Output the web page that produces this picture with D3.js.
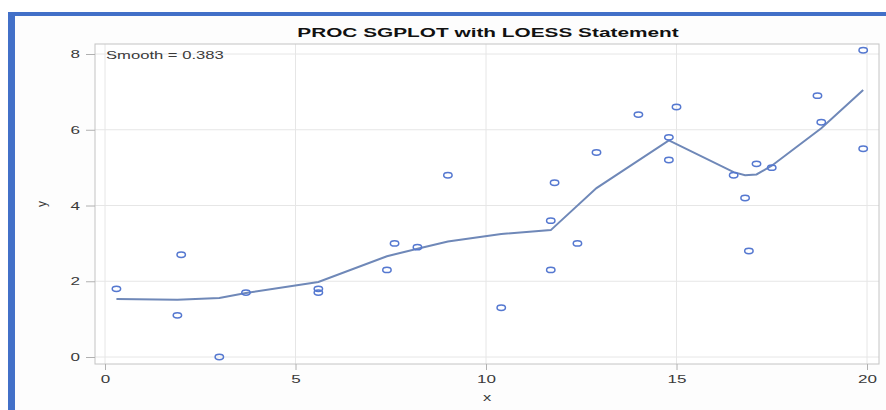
<!DOCTYPE html>
<html>
<head>
<meta charset="utf-8">
<script src="https://cdn.jsdelivr.net/npm/d3@7"></script>
<style>
  body { margin: 0; background: #fff; }
  text { font-family: "Liberation Sans", Arial, sans-serif; }
</style>
</head>
<body>
<div class="chart"></div>
<script>
let svgWidth = 886;
let svgHeight = 410;

// observed points
let xValues = [0.3, 1.9, 2.0, 3.0, 3.7, 5.6, 5.6, 7.4, 7.6, 8.2, 9.0, 10.4, 11.7, 11.7, 11.8, 12.4,
  12.9, 14.0, 14.8, 14.8, 15.0, 16.5, 16.8, 16.9, 17.1, 17.5, 18.7, 18.8, 19.9, 19.9];
let yValues = [1.8, 1.1, 2.7, 0.0, 1.7, 1.8, 1.7, 2.3, 3.0, 2.9, 4.8, 1.3, 2.3, 3.6, 4.6, 3.0,
  5.4, 6.4, 5.2, 5.8, 6.6, 4.8, 4.2, 2.8, 5.1, 5.0, 6.9, 6.2, 8.1, 5.5];

// loess fit
let fitX = [0.3, 1.9, 3.0, 3.7, 5.6, 7.4, 8.2, 9.0, 10.4, 11.7, 12.9, 14.8, 16.5, 16.8, 17.1, 17.5, 18.8, 19.9];
let fitY = [1.53, 1.51, 1.56, 1.69, 1.98, 2.66, 2.86, 3.05, 3.25, 3.35, 4.46, 5.72, 4.88, 4.8, 4.82, 5.05, 6.04, 7.05];

let xTicks = [0, 5, 10, 15, 20];
let yTicks = [0, 2, 4, 6, 8];

let titleText = "PROC SGPLOT with LOESS Statement";
let smoothText = "Smooth = 0.383";

let frame = { left: 95, top: 44, right: 879, bottom: 364 };

let svg = d3.select(".chart")
  .append("svg")
  .attr("width", svgWidth)
  .attr("height", svgHeight);

// outer blue border (top and left visible)
svg.append("rect")
  .attr("x", 8).attr("y", 12)
  .attr("width", svgWidth).attr("height", svgHeight)
  .attr("fill", "#fdfdfd");
svg.append("rect")
  .attr("x", 8).attr("y", 12)
  .attr("width", svgWidth - 8).attr("height", 4)
  .attr("fill", "#4270c8");
svg.append("rect")
  .attr("x", 8).attr("y", 12)
  .attr("width", 7).attr("height", svgHeight - 12)
  .attr("fill", "#4270c8");

let xScale = d3.scaleLinear().domain([0, 20]).range([105, 867]);
let yScale = d3.scaleLinear().domain([0, 8]).range([357, 54]);

svg.append("rect")
  .attr("x", frame.left).attr("y", frame.top)
  .attr("width", frame.right - frame.left).attr("height", frame.bottom - frame.top)
  .attr("fill", "#fff");

// grid
svg.append("g").selectAll("line")
  .data(xTicks)
  .enter().append("line")
  .attr("x1", d => xScale(d)).attr("x2", d => xScale(d))
  .attr("y1", frame.top).attr("y2", frame.bottom)
  .attr("stroke", "#e6e6e6");
svg.append("g").selectAll("line")
  .data(yTicks)
  .enter().append("line")
  .attr("x1", frame.left).attr("x2", frame.right)
  .attr("y1", d => yScale(d)).attr("y2", d => yScale(d))
  .attr("stroke", "#e6e6e6");

svg.append("rect")
  .attr("x", frame.left).attr("y", frame.top)
  .attr("width", frame.right - frame.left).attr("height", frame.bottom - frame.top)
  .attr("fill", "none")
  .attr("stroke", "#c4c4c4");

let xAxis = d3.axisBottom(xScale).tickValues(xTicks).tickSize(6).tickPadding(5);
let yAxis = d3.axisLeft(yScale).tickValues(yTicks).tickSize(9).tickPadding(6);

let xg = svg.append("g")
  .attr("transform", `translate(0, ${frame.bottom})`)
  .call(xAxis);
let yg = svg.append("g")
  .attr("transform", `translate(${frame.left}, 0)`)
  .call(yAxis);

[xg, yg].forEach(g => {
  g.select(".domain").remove();
  g.selectAll(".tick line").attr("stroke", "#b0b0b0");
  g.selectAll(".tick text")
    .attr("fill", "#3a3a3a")
    .attr("data-stretch", 1.55)
    .style("font-size", "11px")
    .style("font-family", "'Liberation Sans', Arial, sans-serif");
});

// loess line
let line = d3.line()
  .x(d => xScale(d[0]))
  .y(d => yScale(d[1]));

svg.append("path")
  .datum(d3.zip(fitX, fitY))
  .attr("d", line)
  .attr("fill", "none")
  .attr("stroke", "#6f88b8")
  .attr("stroke-width", 2);

// points
svg.append("g").selectAll("ellipse")
  .data(d3.zip(xValues, yValues))
  .enter()
  .append("ellipse")
  .attr("cx", d => xScale(d[0]))
  .attr("cy", d => yScale(d[1]))
  .attr("rx", 4.2)
  .attr("ry", 2.7)
  .attr("fill", "none")
  .attr("stroke", "#5578d0")
  .attr("stroke-width", 1.5);

// texts
svg.append("text")
  .attr("x", 488).attr("y", 37)
  .attr("text-anchor", "middle")
  .attr("data-stretch", 1.6)
  .style("font-size", "13px")
  .style("font-weight", "bold")
  .attr("fill", "#111")
  .text(titleText);

svg.append("text")
  .attr("x", 106).attr("y", 59)
  .attr("data-stretch", 1.51)
  .style("font-size", "11px")
  .attr("fill", "#3a3a3a")
  .text(smoothText);

svg.append("text")
  .attr("x", 487).attr("y", 401)
  .attr("text-anchor", "middle")
  .attr("data-stretch", 1.5)
  .style("font-size", "11px")
  .attr("fill", "#3a3a3a")
  .text("x");

svg.append("text")
  .attr("transform", "translate(46, 204) rotate(-90)")
  .attr("text-anchor", "middle")
  .style("font-size", "12px")
  .attr("fill", "#3a3a3a")
  .text("y");

// the picture is stretched sideways, so widen the glyphs
svg.selectAll("text[data-stretch]").each(function() {
  let w = this.getComputedTextLength();
  let k = +d3.select(this).attr("data-stretch");
  d3.select(this)
    .attr("textLength", w * k)
    .attr("lengthAdjust", "spacingAndGlyphs");
});
</script>
</body>
</html>
